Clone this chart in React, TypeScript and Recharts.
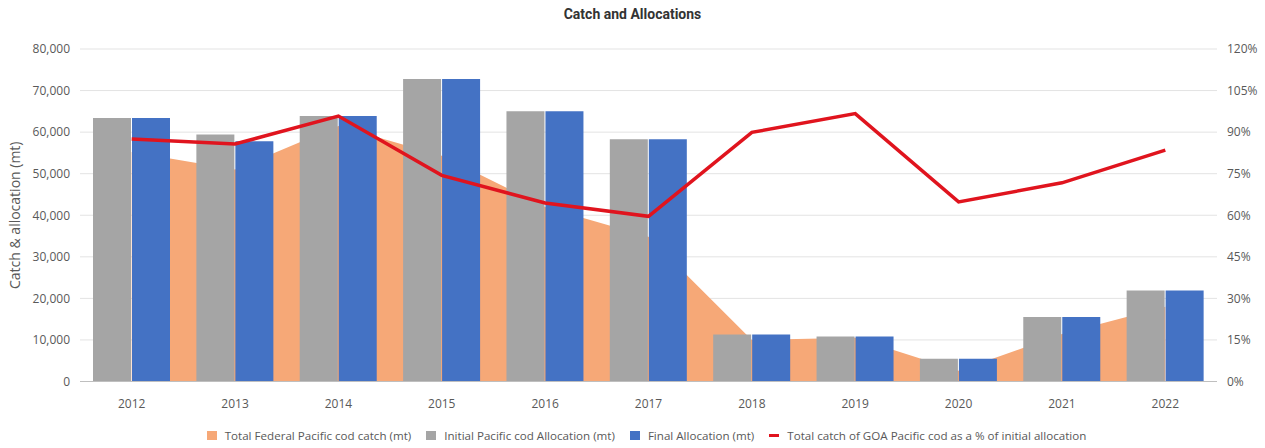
import React from 'react';
import {
  ComposedChart,
  Area,
  Bar,
  Line,
  XAxis,
  YAxis,
  CartesianGrid,
  Legend,
} from 'recharts';

const years = ['2012', '2013', '2014', '2015', '2016', '2017', '2018', '2019', '2020', '2021', '2022'];
const federalCatch = [55200, 51000, 61500, 54300, 42000, 34800, 10000, 10500, 2600, 11400, 18000];
const initialAllocation = [63400, 59400, 63900, 72800, 65000, 58300, 11300, 10800, 5500, 15500, 21900];
const finalAllocation = [63400, 57800, 63900, 72800, 65000, 58300, 11300, 10800, 5500, 15500, 21900];
const catchPct = [87.5, 85.7, 95.8, 74.4, 64.4, 59.6, 89.9, 96.7, 64.8, 71.7, 83.5];

const leftTicks = [0, 10000, 20000, 30000, 40000, 50000, 60000, 70000, 80000];
const rightTicks = [0, 15, 30, 45, 60, 75, 90, 105, 120];

const seriesNames = [
  'Total Federal Pacific cod catch (mt)',
  'Initial Pacific cod Allocation (mt)',
  'Final Allocation (mt)',
  'Total catch of GOA Pacific cod as a % of initial allocation',
];

const ORANGE = '#F6A877';
const GRAY = '#A5A5A5';
const BLUE = '#4472C4';
const RED = '#E0141E';
const TEXT = '#595959';
const FONT = '"Open Sans", "Noto Sans", sans-serif';

const data = years.map((y, i) => ({
  year: y,
  catchMt: federalCatch[i],
  initial: initialAllocation[i],
  final: finalAllocation[i],
  pct: catchPct[i],
}));

const legendItems = [
  { name: seriesNames[0], color: ORANGE, kind: 'square' },
  { name: seriesNames[1], color: GRAY, kind: 'square' },
  { name: seriesNames[2], color: BLUE, kind: 'square' },
  { name: seriesNames[3], color: RED, kind: 'line' },
];

const renderLegend = () => (
  <div
    style={{
      display: 'flex',
      justifyContent: 'center',
      alignItems: 'center',
      fontFamily: FONT,
      fontSize: 11.6,
      color: TEXT,
      whiteSpace: 'nowrap',
      paddingLeft: 28,
    }}
  >
    {legendItems.map((it, i) => (
      <div key={i} style={{ display: 'flex', alignItems: 'center', marginLeft: i === 0 ? 0 : 15 }}>
        {it.kind === 'square' ? (
          <span style={{ display: 'inline-block', width: 10, height: 9, background: it.color }} />
        ) : (
          <span style={{ display: 'inline-block', width: 10, height: 3, background: it.color }} />
        )}
        <span style={{ marginLeft: 8 }}>{it.name}</span>
      </div>
    ))}
  </div>
);

export default function App() {
  return (
    <div style={{ position: 'absolute', left: 0, top: 0, width: 1265, height: 448, background: '#fff' }}>
      <div
        style={{
          position: 'absolute',
          left: 0,
          top: 6,
          width: 1265,
          textAlign: 'center',
          fontFamily: 'Roboto, "Liberation Sans", sans-serif',
          fontWeight: 700,
          fontSize: 14,
          color: '#333333',
          zIndex: 2,
        }}
      >
        Catch and Allocations
      </div>
      <ComposedChart
        width={1265}
        height={448}
        data={data}
        margin={{ top: 49, right: 0, bottom: 36.5, left: 0 }}
        barGap={1}
      >
        <Area
          yAxisId="left"
          type="linear"
          dataKey="catchMt"
          name={seriesNames[0]}
          fill={ORANGE}
          fillOpacity={1}
          stroke="none"
          isAnimationActive={false}
          dot={false}
          activeDot={false}
        />
        <CartesianGrid yAxisId="left" vertical={false} stroke="#E3E3E3" />
        <XAxis
          dataKey="year"
          height={30}
          tickLine={false}
          axisLine={{ stroke: '#BFBFBF' }}
          tick={{ fill: TEXT, fontSize: 12, fontFamily: FONT }}
          tickMargin={12}
        />
        <YAxis
          yAxisId="left"
          orientation="left"
          width={80}
          domain={[0, 80000]}
          ticks={leftTicks}
          tickLine={false}
          axisLine={false}
          tickMargin={4}
          tickFormatter={(v: number) => v.toLocaleString('en-US')}
          tick={{ fill: TEXT, fontSize: 12, fontFamily: FONT }}
          label={{
            value: 'Catch & allocation (mt)',
            angle: -90,
            position: 'insideLeft',
            offset: 15,
            style: { textAnchor: 'middle', fill: TEXT, fontSize: 14, fontFamily: FONT },
          }}
        />
        <YAxis
          yAxisId="right"
          orientation="right"
          width={48}
          domain={[0, 120]}
          ticks={rightTicks}
          tickLine={false}
          axisLine={false}
          tickMargin={4}
          tickFormatter={(v: number) => `${v}%`}
          tick={{ fill: TEXT, fontSize: 12, fontFamily: FONT }}
        />
        <Bar
          yAxisId="left"
          dataKey="initial"
          name={seriesNames[1]}
          fill={GRAY}
          barSize={38}
          isAnimationActive={false}
        />
        <Bar
          yAxisId="left"
          dataKey="final"
          name={seriesNames[2]}
          fill={BLUE}
          barSize={38}
          isAnimationActive={false}
        />
        <Line
          yAxisId="right"
          type="linear"
          dataKey="pct"
          name={seriesNames[3]}
          stroke={RED}
          strokeWidth={3.5}
          dot={false}
          activeDot={false}
          isAnimationActive={false}
        />
        <Legend
          content={renderLegend}
          wrapperStyle={{ position: 'absolute', left: 0, top: 428, width: 1265, height: 0, overflow: 'visible' }}
        />
      </ComposedChart>
    </div>
  );
}
